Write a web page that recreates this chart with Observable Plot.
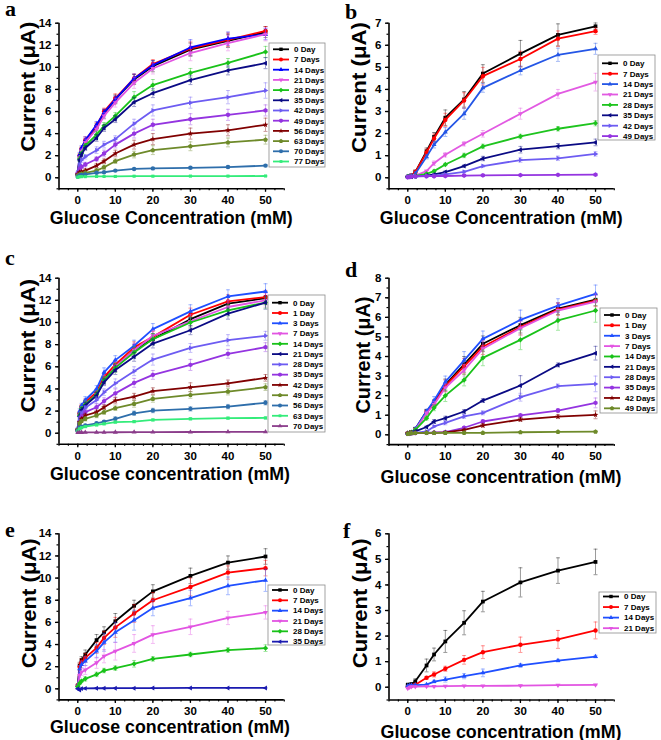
<!DOCTYPE html>
<html><head><meta charset="utf-8">
<script src="https://cdn.jsdelivr.net/npm/d3@7"></script>
<script src="https://cdn.jsdelivr.net/npm/@observablehq/plot@0.6"></script>
<style>
body{margin:0;background:#fff}
#fig{position:relative;width:661px;height:740px;overflow:hidden;background:#fff}
#fig svg{position:absolute}
</style>
</head><body><div id="fig"></div>
<script>
// glucose concentration (mM)
const conc = [0, 0.5, 1, 2, 5, 7, 10, 15, 20, 30, 40, 50];

// ---- panel a ----
const namesA = ["0 Day","7 Days","14 Days","21 Days","28 Days","35 Days","42 Days","49 Days","56 Days","63 Days","70 Days","77 Days"];
const currentA = [
  [0.3,1.9,2.5,3.2,4.6,5.8,7.1,8.9,10.1,11.6,12.4,13.2],
  [0.3,2.0,2.6,3.4,4.7,6.0,7.2,9.0,10.3,11.7,12.5,13.3],
  [0.4,2.1,2.7,3.4,4.8,5.9,7.1,9.0,10.2,11.8,12.6,13.0],
  [0.3,1.8,2.4,3.2,4.4,5.6,6.8,8.6,9.9,11.3,12.2,13.0],
  [0.3,1.7,2.2,2.9,3.9,4.7,5.6,7.3,8.4,9.5,10.4,11.4],
  [0.3,1.6,2.1,2.7,3.6,4.5,5.3,6.85,7.66,8.84,9.72,10.38],
  [0.5,1.2,1.6,1.9,2.5,3.0,3.5,4.9,6.1,6.8,7.3,7.9],
  [0.4,0.8,1.0,1.2,1.7,2.2,3.0,4.0,4.8,5.3,5.7,6.1],
  [0.3,0.5,0.55,0.65,1.1,1.5,2.2,3.0,3.5,4.0,4.3,4.8],
  [0.2,0.3,0.35,0.45,0.65,0.95,1.5,2.1,2.5,2.85,3.2,3.45],
  [0.1,0.2,0.25,0.3,0.45,0.5,0.65,0.8,0.85,0.9,0.97,1.1],
  [0.05,0.1,0.1,0.1,0.12,0.12,0.12,0.14,0.14,0.15,0.15,0.16]
];
const errorA = [
  [0.1,0.2,0.2,0.3,0.3,0.4,0.4,0.45,0.5,0.6,0.6,0.5],
  [0.1,0.2,0.2,0.3,0.3,0.3,0.4,0.4,0.4,0.6,0.6,0.4],
  [0.1,0.2,0.2,0.3,0.3,0.3,0.3,0.4,0.4,0.7,0.6,0.5],
  [0.1,0.2,0.2,0.3,0.3,0.3,0.4,0.5,0.5,0.7,0.7,0.6],
  [0.1,0.2,0.2,0.2,0.3,0.3,0.3,0.5,0.5,0.4,0.4,0.5],
  [0.1,0.1,0.2,0.2,0.3,0.3,0.3,0.4,0.4,0.4,0.4,0.5],
  [0.1,0.1,0.2,0.2,0.3,0.3,0.3,0.4,0.5,0.5,0.6,0.7],
  [0.1,0.1,0.1,0.2,0.2,0.3,0.3,0.4,0.5,0.5,0.5,0.5],
  [0.1,0.1,0.1,0.2,0.2,0.2,0.3,0.4,0.5,0.5,0.5,0.6],
  [0.05,0.1,0.1,0.1,0.2,0.2,0.2,0.3,0.4,0.4,0.4,0.4],
  [0.05,0.05,0.05,0.05,0.05,0.05,0.05,0.05,0.05,0.1,0.1,0.1],
  [0.02,0.02,0.02,0.02,0.02,0.02,0.02,0.02,0.02,0.02,0.02,0.02]
];
const colorsA = ["#000000","#ff0000","#0000ff","#e254e2","#19c219","#0a0a84","#6d5cf2","#9434e0","#800000","#6e8a2a","#2e6eab","#33ec7a"];

// ---- panel b ----
const namesB = ["0 Day","7 Days","14 Days","21 Days","28 Days","35 Days","42 Days","49 Days"];
const currentB = [
  [0.05,0.08,0.1,0.25,1.2,1.85,2.72,3.55,4.72,5.62,6.47,6.86],
  [0.05,0.08,0.1,0.25,1.15,1.78,2.62,3.5,4.6,5.38,6.3,6.64],
  [0.05,0.08,0.1,0.18,0.95,1.5,2.07,2.9,4.07,4.86,5.57,5.84],
  [0.05,0.06,0.08,0.1,0.3,0.66,1.04,1.54,1.99,2.9,3.8,4.33],
  [0.05,0.05,0.06,0.08,0.18,0.3,0.6,1.01,1.42,1.87,2.22,2.47],
  [0.05,0.05,0.05,0.06,0.1,0.15,0.26,0.53,0.87,1.27,1.43,1.6],
  [0.05,0.05,0.05,0.06,0.08,0.1,0.15,0.27,0.53,0.8,0.88,1.08],
  [0.02,0.04,0.05,0.06,0.07,0.07,0.08,0.1,0.11,0.12,0.13,0.14]
];
const errorB = [
  [0.02,0.03,0.05,0.1,0.15,0.2,0.35,0.35,0.4,0.6,0.5,0.15],
  [0.02,0.03,0.05,0.1,0.15,0.2,0.3,0.35,0.4,0.35,0.35,0.15],
  [0.02,0.03,0.05,0.1,0.1,0.15,0.2,0.25,0.2,0.2,0.3,0.25],
  [0.02,0.02,0.03,0.05,0.05,0.1,0.1,0.1,0.15,0.25,0.2,0.4],
  [0.02,0.02,0.02,0.03,0.03,0.05,0.05,0.1,0.1,0.1,0.1,0.12],
  [0.02,0.02,0.02,0.03,0.03,0.03,0.05,0.05,0.1,0.15,0.12,0.15],
  [0.02,0.02,0.02,0.02,0.03,0.03,0.03,0.05,0.05,0.1,0.1,0.1],
  [0.02,0.02,0.02,0.02,0.02,0.02,0.02,0.02,0.02,0.02,0.02,0.02]
];
const colorsB = ["#000000","#ff0000","#2456e6","#e25ae2","#1ec41e","#0a0a84","#6d5cf2","#9434e0"];

// ---- panel c ----
const namesC = ["0 Day","1 Day","3 Days","7 Days","14 Days","21 Days","28 Days","35 Days","42 Days","49 Days","56 Days","63 Days","70 Days"];
const currentC = [
  [0.3,1.7,2.3,2.7,3.6,5.0,6.0,7.5,8.5,10.3,11.7,12.2],
  [0.3,1.8,2.4,2.8,3.7,5.1,6.2,7.75,8.7,10.7,11.9,12.3],
  [0.4,2.0,2.5,3.0,4.0,5.5,6.6,7.9,9.4,11.0,12.35,12.8],
  [0.3,1.6,2.2,2.6,3.5,4.8,6.0,7.5,8.8,10.1,11.4,12.0],
  [0.3,1.6,2.2,2.6,3.5,4.8,5.9,7.3,8.5,10.0,11.1,11.8],
  [0.3,1.5,2.1,2.5,3.4,4.6,5.7,6.9,8.1,9.3,10.8,11.8],
  [0.4,1.3,1.8,2.3,3.0,3.7,4.5,5.6,6.65,7.7,8.4,8.8],
  [0.3,1.0,1.5,1.9,2.35,2.9,3.6,4.55,5.27,6.17,7.17,7.77],
  [0.3,1.0,1.3,1.6,1.9,2.35,2.95,3.3,3.8,4.15,4.5,5.0],
  [0.3,0.9,1.1,1.3,1.6,1.9,2.26,2.65,3.1,3.46,3.76,4.16],
  [0.2,0.5,0.6,0.7,0.9,1.05,1.3,1.8,2.05,2.2,2.4,2.75],
  [0.2,0.4,0.5,0.6,0.75,0.85,1.0,1.05,1.2,1.3,1.36,1.38],
  [0.05,0.06,0.07,0.08,0.08,0.08,0.09,0.1,0.1,0.11,0.12,0.13]
];
const errorC = [
  [0.1,0.2,0.2,0.3,0.3,0.4,0.4,0.5,0.5,0.6,0.6,0.6],
  [0.1,0.2,0.2,0.3,0.3,0.4,0.4,0.5,0.5,0.6,0.6,0.6],
  [0.1,0.2,0.2,0.3,0.3,0.4,0.4,0.5,0.5,0.6,0.6,0.7],
  [0.1,0.2,0.2,0.3,0.3,0.4,0.4,0.6,0.5,0.6,0.6,0.6],
  [0.1,0.2,0.2,0.3,0.3,0.3,0.4,0.5,0.5,0.5,0.5,0.5],
  [0.1,0.2,0.2,0.3,0.3,0.3,0.4,0.4,0.4,0.4,0.5,0.6],
  [0.1,0.2,0.2,0.2,0.3,0.3,0.4,0.4,0.5,0.4,0.5,0.4],
  [0.1,0.1,0.2,0.2,0.3,0.3,0.4,0.4,0.4,0.5,0.4,0.4],
  [0.1,0.1,0.1,0.2,0.2,0.2,0.3,0.3,0.3,0.4,0.3,0.3],
  [0.1,0.1,0.1,0.2,0.2,0.2,0.2,0.3,0.3,0.3,0.3,0.3],
  [0.05,0.1,0.1,0.1,0.1,0.1,0.2,0.2,0.2,0.2,0.2,0.2],
  [0.05,0.05,0.05,0.1,0.1,0.1,0.1,0.1,0.1,0.1,0.1,0.1],
  [0.02,0.02,0.02,0.02,0.02,0.02,0.02,0.02,0.02,0.02,0.02,0.02]
];
const colorsC = ["#000000","#ff0000","#1f4fff","#e254e2","#19c219","#0a0a84","#6d5cf2","#9434e0","#800000","#6e8a2a","#2e6eab","#33ec7a","#8b3d8b"];

// ---- panel d ----
const namesD = ["0 Day","1 Day","3 Days","7 Days","14 Days","21 Days","28 Days","35 Days","42 Days","49 Days"];
const currentD = [
  [0.08,0.1,0.12,0.3,1.2,1.65,2.55,3.6,4.65,5.6,6.45,6.9],
  [0.08,0.1,0.12,0.28,1.15,1.6,2.5,3.5,4.5,5.5,6.4,6.85],
  [0.08,0.1,0.12,0.3,1.2,1.75,2.7,3.8,4.9,5.87,6.6,7.2],
  [0.08,0.1,0.12,0.25,1.1,1.55,2.4,3.3,4.4,5.45,6.35,6.8],
  [0.08,0.1,0.12,0.25,0.85,1.38,2.0,2.8,3.93,4.85,5.84,6.35],
  [0.05,0.08,0.1,0.18,0.4,0.68,0.85,1.19,1.75,2.52,3.57,4.17],
  [0.05,0.07,0.08,0.1,0.17,0.43,0.61,0.94,1.12,1.92,2.49,2.6],
  [0.05,0.07,0.08,0.09,0.1,0.12,0.14,0.36,0.68,0.99,1.24,1.63],
  [0.08,0.1,0.1,0.1,0.1,0.1,0.12,0.25,0.48,0.78,0.93,1.02],
  [0.05,0.07,0.08,0.09,0.1,0.1,0.1,0.1,0.1,0.13,0.15,0.16]
];
const errorD = [
  [0.02,0.03,0.05,0.08,0.1,0.15,0.3,0.4,0.4,0.4,0.3,0.3],
  [0.02,0.03,0.05,0.08,0.1,0.15,0.3,0.4,0.4,0.4,0.3,0.3],
  [0.02,0.03,0.05,0.08,0.1,0.2,0.3,0.45,0.4,0.5,0.35,0.45],
  [0.02,0.03,0.05,0.08,0.1,0.15,0.2,0.3,0.4,0.35,0.4,0.4],
  [0.02,0.03,0.05,0.08,0.1,0.15,0.3,0.3,0.4,0.5,0.5,0.6],
  [0.02,0.02,0.03,0.05,0.05,0.1,0.1,0.1,0.1,0.5,0.1,0.35],
  [0.02,0.02,0.02,0.03,0.05,0.05,0.1,0.1,0.1,0.2,0.1,0.4],
  [0.02,0.02,0.02,0.02,0.03,0.03,0.05,0.05,0.1,0.1,0.1,0.25],
  [0.02,0.02,0.02,0.02,0.02,0.02,0.03,0.05,0.1,0.1,0.1,0.2],
  [0.02,0.02,0.02,0.02,0.02,0.02,0.02,0.02,0.02,0.02,0.02,0.02]
];
const colorsD = ["#000000","#ff0000","#1f4fff","#e254e2","#19c219","#0a0a84","#6d5cf2","#9434e0","#800000","#6e8a2a"];

// ---- panel e ----
const namesE = ["0 Day","7 Days","14 Days","21 Days","28 Days","35 Days"];
const currentE = [
  [0.3,2.1,2.6,3.1,4.4,5.1,6.1,7.5,8.8,10.2,11.4,11.95],
  [0.3,2.0,2.4,2.8,3.7,4.6,5.55,6.8,8.0,9.2,10.5,10.9],
  [0.3,1.8,2.2,2.5,3.4,4.2,5.1,6.2,7.3,8.2,9.3,9.8],
  [0.2,1.2,1.5,1.7,2.35,2.95,3.4,4.1,4.9,5.6,6.4,6.9],
  [0.2,0.5,0.7,0.9,1.3,1.65,1.87,2.26,2.7,3.1,3.5,3.67],
  [0.0,-0.1,0.02,0.04,0.05,0.05,0.06,0.06,0.07,0.08,0.08,0.08]
];
const errorE = [
  [0.1,0.3,0.3,0.4,0.5,0.5,0.7,0.5,0.6,0.7,0.6,0.7],
  [0.1,0.3,0.3,0.4,0.5,0.6,0.9,0.8,0.7,0.8,0.6,0.7],
  [0.1,0.3,0.3,0.4,0.6,0.8,0.9,0.9,0.7,0.7,0.8,1.0],
  [0.1,0.2,0.3,0.4,0.5,0.6,0.8,0.8,0.8,0.7,0.6,0.6],
  [0.05,0.1,0.1,0.2,0.2,0.2,0.2,0.3,0.2,0.2,0.2,0.3],
  [0.02,0.02,0.02,0.02,0.02,0.02,0.02,0.02,0.02,0.02,0.02,0.02]
];
const colorsE = ["#000000","#ff0000","#1f4fff","#e254e2","#19c219","#1a1ab0"];

// ---- panel f ----
const namesF = ["0 Day","7 Days","14 Days","21 Days"];
const currentF = [
  [0.1,0.1,0.12,0.23,0.85,1.28,1.79,2.52,3.35,4.1,4.56,4.9],
  [0.02,0.04,0.06,0.1,0.37,0.5,0.72,1.07,1.37,1.66,1.87,2.22],
  [0.05,0.06,0.07,0.08,0.1,0.22,0.3,0.43,0.56,0.85,1.04,1.2],
  [-0.05,0.0,0.02,0.02,0.03,0.03,0.04,0.05,0.05,0.06,0.08,0.09]
];
const errorF = [
  [0.02,0.02,0.05,0.1,0.25,0.25,0.43,0.47,0.4,0.57,0.5,0.5],
  [0.02,0.02,0.03,0.05,0.05,0.1,0.1,0.17,0.25,0.3,0.35,0.33],
  [0.02,0.02,0.02,0.05,0.05,0.05,0.1,0.1,0.15,0.08,0.05,0.05],
  [0.02,0.02,0.02,0.02,0.02,0.02,0.02,0.02,0.02,0.02,0.02,0.02]
];
const colorsF = ["#000000","#ff0000","#1f4fff","#e254e2"];

// tick labels
const xTicks = [0, 10, 20, 30, 40, 50];
const yTicks14 = [0, 2, 4, 6, 8, 10, 12, 14];
const yTicks7 = [0, 1, 2, 3, 4, 5, 6, 7];
const yTicks8 = [0, 1, 2, 3, 4, 5, 6, 7, 8];
const yTicks6 = [0, 1, 2, 3, 4, 5, 6];

// ---------- symbols (Origin-style order) ----------
function poly(pts, k = 1.15) {
  return {draw(ctx, size) {
    const r = Math.sqrt(size / Math.PI) * k;
    pts.forEach(([px, py], i) => i ? ctx.lineTo(px * r, py * r) : ctx.moveTo(px * r, py * r));
    ctx.closePath();
  }};
}
const ngon = (n, rot, k) => poly(d3.range(n).map(i => {const a = rot + 2 * Math.PI * i / n; return [Math.sin(a), -Math.cos(a)];}), k);
const circleSym = {draw(ctx, size) {const r = Math.sqrt(size / Math.PI); ctx.moveTo(r, 0); ctx.arc(0, 0, r, 0, 2 * Math.PI);}};
const starSym = poly(d3.range(10).map(i => {const a = Math.PI * i / 5; const rr = i % 2 ? 0.5 : 1.25; return [Math.sin(a) * rr, -Math.cos(a) * rr];}), 1.1);
const symbols = [
  poly([[-0.85,-0.85],[0.85,-0.85],[0.85,0.85],[-0.85,0.85]], 1),
  circleSym,
  ngon(3, 0, 1.3),
  ngon(3, Math.PI, 1.3),
  ngon(4, 0, 1.2),
  ngon(3, -Math.PI / 2, 1.3),
  ngon(3, Math.PI / 2, 1.3),
  ngon(6, 0, 1.1),
  starSym,
  ngon(5, 0, 1.15),
  circleSym,
  ngon(4, Math.PI / 4, 1.0),
  ngon(3, 0, 1.3)
];
const capSym = {draw(ctx) {ctx.moveTo(-2, 0); ctx.lineTo(2, 0);}};

// ---------- layout ----------
const panels = [
  {id: "a", names: namesA, vals: currentA, errs: errorA, colors: colorsA, left: 0, top: 0, h: 240,
   yDomain: [-1, 14], yTicks: yTicks14, yMinorStep: 1, mt: 22.7, mb: 51.7,
   letter: [5, 16], yTitle: [35, 86.7, 130], xTitle: [171.3, 224, 243, "Glucose Concentration (mM)"],
   legend: {x: 269, y: 43, w: 56, h: 124, row0: 49.3, dy: 10.2}},
  {id: "b", names: namesB, vals: currentB, errs: errorB, colors: colorsB, left: 330, top: 0, h: 240,
   yDomain: [-0.5, 7], yTicks: yTicks7, yMinorStep: 0.5, mt: 22.7, mb: 51.7,
   letter: [15, 19], yTitle: [35.5, 87.5, 131], xTitle: [171.3, 224, 243, "Glucose Concentration (mM)"],
   legend: {x: 268, y: 55, w: 57, h: 85, row0: 63.3, dy: 10.4}},
  {id: "c", names: namesC, vals: currentC, errs: errorC, colors: colorsC, left: 0, top: 240, h: 245,
   yDomain: [-1, 14], yTicks: yTicks14, yMinorStep: 1, mt: 37.7, mb: 41.2,
   letter: [5, 25], yTitle: [35, 105.8, 134], xTitle: [170, 240, 240, "Glucose concentration (mM)"],
   legend: {x: 268, y: 55, w: 57, h: 137, row0: 62.7, dy: 10.28}},
  {id: "d", names: namesD, vals: currentD, errs: errorD, colors: colorsD, left: 330, top: 240, h: 245,
   yDomain: [-0.5, 8], yTicks: yTicks8, yMinorStep: 0.5, mt: 37.7, mb: 40.9,
   letter: [15, 37], yTitle: [40, 115, 117], xTitle: [171, 243, 241, "Glucose concentration (mM)"],
   legend: {x: 270, y: 68, w: 57, h: 105, row0: 75, dy: 10.37}},
  {id: "e", names: namesE, vals: currentE, errs: errorE, colors: colorsE, left: 0, top: 485, h: 255,
   yDomain: [-1, 14], yTicks: yTicks14, yMinorStep: 1, mt: 48.3, mb: 40.6,
   letter: [5, 52], yTitle: [35.7, 118.3, 130], xTitle: [170, 248, 240, "Glucose concentration (mM)"],
   legend: {x: 268, y: 100, w: 57, h: 60, row0: 105, dy: 10.33}},
  {id: "f", names: namesF, vals: currentF, errs: errorF, colors: colorsF, left: 330, top: 485, h: 255,
   yDomain: [-0.5, 6], yTicks: yTicks6, yMinorStep: 0.5, mt: 48.3, mb: 40.5,
   letter: [13, 53], yTitle: [36.7, 118.3, 130], xTitle: [171, 253, 241, "Glucose concentration (mM)"],
   legend: {x: 269, y: 107, w: 57, h: 41, row0: 111.5, dy: 10.56}}
];

const W = 330, ML = 58.5, MR = 330 - 283.8;
const fig = document.getElementById("fig");
const FONT = "'Liberation Sans', Arial, sans-serif";
const fmt = d => String(d);

for (const P of panels) {
  const marks = [];
  const yMinor = d3.range(Math.ceil(P.yDomain[0] / P.yMinorStep) * P.yMinorStep, P.yDomain[1] + 1e-9, P.yMinorStep);
  const xMinor = d3.range(-5, 55.01, 2.5);
  marks.push(
    Plot.tickX(xMinor, {x: d => d, y1: P.yDomain[0], y2: P.yDomain[0], stroke: "none"}),
    Plot.axisX({ticks: xMinor, tickSize: 2, tickFormat: () => "", strokeWidth: 1.2}),
    Plot.axisX({ticks: xTicks, tickSize: 3.5, tickPadding: 3.8, fontSize: 11.5, fontWeight: "bold", fontFamily: FONT, strokeWidth: 1.3, fill: "#000", tickFormat: fmt}),
    Plot.axisY({ticks: yMinor, tickSize: 2, tickFormat: () => "", strokeWidth: 1.2}),
    Plot.axisY({ticks: P.yTicks, tickSize: 3.5, tickPadding: 4, fontSize: 11.5, fontWeight: "bold", fontFamily: FONT, strokeWidth: 1.3, fill: "#000", tickFormat: fmt}),
    Plot.ruleX([-5], {stroke: "#000", strokeWidth: 1.6}),
    Plot.ruleY([P.yDomain[0]], {stroke: "#000", strokeWidth: 1.6})
  );
  P.names.forEach((name, i) => {
    const rows = conc.map((c, j) => ({x: c, y: P.vals[i][j], e: P.errs[i][j]}));
    const col = P.colors[i];
    marks.push(
      Plot.ruleX(rows, {x: "x", y1: d => d.y - d.e, y2: d => d.y + d.e, stroke: col, strokeOpacity: 0.4, strokeWidth: 1}),
      Plot.dot(rows, {x: "x", y: d => d.y + d.e, symbol: capSym, r: 2, stroke: col, strokeOpacity: 0.4, strokeWidth: 1, fill: "none"}),
      Plot.dot(rows, {x: "x", y: d => d.y - d.e, symbol: capSym, r: 2, stroke: col, strokeOpacity: 0.4, strokeWidth: 1, fill: "none"}),
      Plot.line(rows, {x: "x", y: "y", stroke: col, strokeWidth: 1.8}),
      Plot.dot(rows, {x: "x", y: "y", symbol: symbols[i % symbols.length], r: 2.2, fill: col, stroke: "none"})
    );
  });
  const svgEl = Plot.plot({
    width: W, height: P.h,
    marginLeft: ML, marginRight: MR, marginTop: P.mt, marginBottom: P.mb,
    x: {domain: [-5, 55], label: null},
    y: {domain: P.yDomain, label: null},
    style: {background: "transparent", overflow: "visible"},
    marks
  });
  // drop the empty minor-tick label nodes
  d3.select(svgEl).selectAll("text").filter(function() { return this.textContent === ""; }).remove();
  svgEl.style.left = P.left + "px";
  svgEl.style.top = P.top + "px";
  fig.appendChild(svgEl);

  const svg = d3.select(svgEl);
  // panel letter
  svg.append("text").attr("x", P.letter[0]).attr("y", P.letter[1]).text(P.id).attr("text-anchor", "start")
    .attr("font-family", "'Liberation Serif', 'Times New Roman', serif").attr("font-weight", "bold").attr("font-size", 22).attr("fill", "#000");
  // y title
  svg.append("text").attr("transform", `translate(${P.yTitle[0]},${P.yTitle[1]}) rotate(-90)`)
    .attr("text-anchor", "middle").attr("font-family", FONT).attr("font-weight", "bold").attr("font-size", 20)
    .attr("textLength", P.yTitle[2]).attr("lengthAdjust", "spacingAndGlyphs").attr("fill", "#000").text("Current (μA)");
  // x title
  svg.append("text").attr("x", P.xTitle[0]).attr("y", P.xTitle[1])
    .attr("text-anchor", "middle").attr("font-family", FONT).attr("font-weight", "bold").attr("font-size", 19)
    .attr("textLength", P.xTitle[2]).attr("lengthAdjust", "spacingAndGlyphs").attr("fill", "#000").text(P.xTitle[3]);
  // legend
  const L = P.legend;
  const g = svg.append("g");
  g.append("rect").attr("x", L.x).attr("y", L.y).attr("width", L.w).attr("height", L.h)
    .attr("fill", "#fff").attr("stroke", "#8c8c8c").attr("stroke-width", 0.8);
  P.names.forEach((n, i) => {
    const cy = L.row0 + i * L.dy;
    g.append("line").attr("x1", L.x + 4).attr("x2", L.x + 20).attr("y1", cy).attr("y2", cy)
      .attr("stroke", P.colors[i]).attr("stroke-width", 1.8);
    const p = d3.path();
    symbols[i % symbols.length].draw(p, Math.PI * 2.0 * 2.0);
    g.append("path").attr("d", p.toString()).attr("transform", `translate(${L.x + 12},${cy})`).attr("fill", P.colors[i]);
    g.append("text").attr("x", L.x + 25).attr("y", cy).attr("dy", "0.35em").attr("text-anchor", "start").text(n)
      .attr("font-family", FONT).attr("font-weight", "bold").attr("font-size", 8).attr("fill", "#000");
  });
}
</script>
</body></html>
